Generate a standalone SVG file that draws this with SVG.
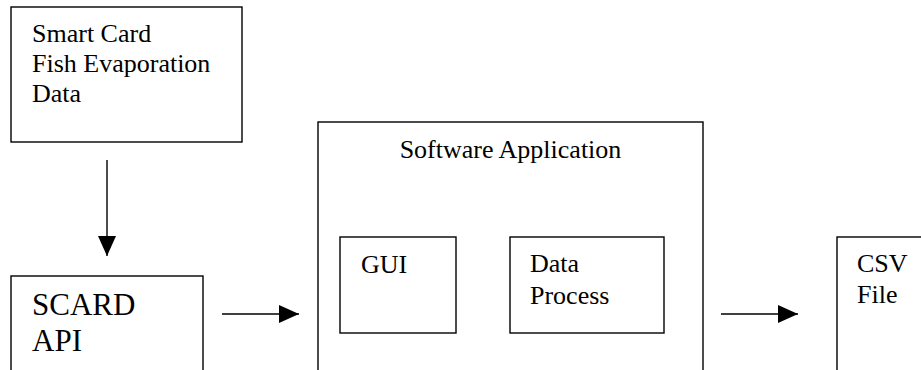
<svg xmlns="http://www.w3.org/2000/svg" width="921" height="370" viewBox="0 0 921 370">
<defs>
<style>
.box{fill:#fff;stroke:#000;stroke-width:1.4}
.t{font-family:"Liberation Serif","Times New Roman",serif;font-size:26px;fill:#000}
.big{font-size:31px}
.line{stroke:#000;stroke-width:1.4;fill:none}
</style>
<marker id="ah" viewBox="0 0 20 18" refX="20" refY="9" markerWidth="20" markerHeight="18" markerUnits="userSpaceOnUse" orient="auto">
<path d="M0,0 L20,9 L0,18 Z" fill="#000"/>
</marker>
</defs>
<rect width="921" height="370" fill="#fff"/>
<g id="smartcard">
<rect class="box" x="11" y="7" width="231" height="135"/>
<text class="t" x="32" y="42">Smart Card</text>
<text class="t" x="32" y="72">Fish Evaporation</text>
<text class="t" x="32" y="102">Data</text>
</g>
<g id="scard">
<rect class="box" x="11" y="276" width="192" height="110"/>
<text class="t big" x="32" y="315">SCARD</text>
<text class="t big" x="32" y="351">API</text>
</g>
<g id="software">
<rect class="box" x="318" y="122" width="385" height="270"/>
<text class="t" x="510.5" y="158" text-anchor="middle">Software Application</text>
</g>
<g id="gui">
<rect class="box" x="340" y="237" width="116" height="96"/>
<text class="t" x="361" y="273">GUI</text>
</g>
<g id="dataprocess">
<rect class="box" x="510" y="237" width="154" height="96"/>
<text class="t" x="530" y="272">Data</text>
<text class="t" x="530" y="304">Process</text>
</g>
<g id="csv">
<rect class="box" x="837" y="237" width="120" height="160"/>
<text class="t" x="857" y="272">CSV</text>
<text class="t" x="857" y="303">File</text>
</g>
<g id="connectors">
<line class="line" x1="107" y1="160" x2="107" y2="256" marker-end="url(#ah)"/>
<line class="line" x1="222" y1="314" x2="299" y2="314" marker-end="url(#ah)"/>
<line class="line" x1="721" y1="314" x2="798" y2="314" marker-end="url(#ah)"/>
</g>
</svg>
